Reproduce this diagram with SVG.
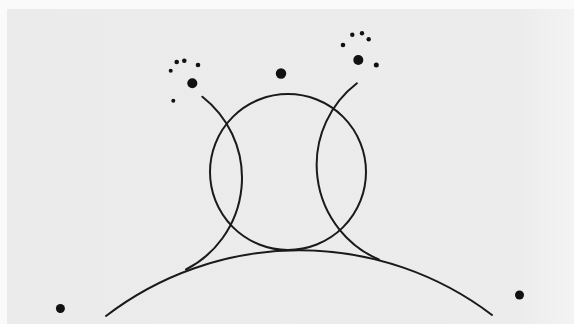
<svg xmlns="http://www.w3.org/2000/svg" width="574" height="324" viewBox="0 0 574 324">
  <defs>
    <linearGradient id="paper" x1="0" y1="0" x2="1" y2="0">
      <stop offset="0" stop-color="#ebebeb"/>
      <stop offset="0.9" stop-color="#ececec"/>
      <stop offset="1" stop-color="#f3f3f3"/>
    </linearGradient>
    <style>
      .ln { fill: none; stroke: #1a1a1a; stroke-width: 2; stroke-linecap: round; }
      .dot { fill: #111; }
    </style>
  </defs>
  <rect x="0" y="0" width="574" height="324" fill="#fafafa"/>
  <rect x="7" y="9" width="567" height="315" fill="url(#paper)"/>

  <g id="shapes">
    <g id="planet"><path class="ln" d="M106,316 A318.2,318.2 0 0 1 492,315"/></g>
    <g id="sphere"><circle class="ln" cx="288" cy="172" r="78"/></g>
    <g id="left-arc"><path class="ln" d="M202.4,96.7 A103,103 0 0 1 186,269.5"/></g>
    <g id="right-arc"><path class="ln" d="M356.9,83.3 A103,103 0 0 0 378.8,259.5"/></g>
  </g>

  <g id="dots">
    <circle class="dot" cx="281" cy="73.5" r="5.2"/>
    <circle class="dot" cx="192.3" cy="83.3" r="5"/>
    <circle class="dot" cx="176.7" cy="62" r="2.3"/>
    <circle class="dot" cx="184.3" cy="60.7" r="2.3"/>
    <circle class="dot" cx="198" cy="65" r="2.3"/>
    <circle class="dot" cx="170.7" cy="70.7" r="2"/>
    <circle class="dot" cx="173.3" cy="100.7" r="2"/>
    <circle class="dot" cx="358.3" cy="60" r="5"/>
    <circle class="dot" cx="352.3" cy="34.7" r="2.2"/>
    <circle class="dot" cx="362" cy="33.3" r="2.2"/>
    <circle class="dot" cx="368.7" cy="39.3" r="2.2"/>
    <circle class="dot" cx="343" cy="45" r="2.3"/>
    <circle class="dot" cx="376.3" cy="65" r="2.5"/>
    <circle class="dot" cx="60.4" cy="308.5" r="4.5"/>
    <circle class="dot" cx="519.5" cy="295" r="4.5"/>
  </g>
</svg>
